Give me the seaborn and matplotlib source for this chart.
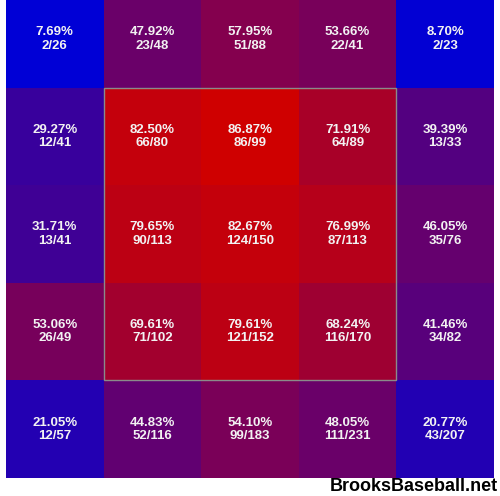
import numpy as np
import pandas as pd
import matplotlib
matplotlib.use("Agg")
import matplotlib.pyplot as plt
from matplotlib.colors import LinearSegmentedColormap
from matplotlib.patches import Rectangle
import seaborn as sns

# hits / pitches per zone, rows top to bottom
hits = [
    [2, 23, 51, 22, 2],
    [12, 66, 86, 64, 13],
    [13, 90, 124, 87, 35],
    [26, 71, 121, 116, 34],
    [12, 52, 99, 111, 43],
]
totals = [
    [26, 48, 88, 41, 23],
    [41, 80, 99, 89, 33],
    [41, 113, 150, 113, 76],
    [49, 102, 152, 170, 82],
    [57, 116, 183, 231, 207],
]

hits = np.array(hits)
totals = np.array(totals)
rate = hits / totals
df = pd.DataFrame(rate)

labels = np.empty(rate.shape, dtype=object)
for i in range(rate.shape[0]):
    for j in range(rate.shape[1]):
        labels[i, j] = f"{rate[i, j] * 100:.2f}%\n{hits[i, j]}/{totals[i, j]}"

cmap = LinearSegmentedColormap.from_list("br", ["#0000d6", "#cf0000"])

fig = plt.figure(figsize=(5, 4.96), dpi=100)
ax = fig.add_axes([6 / 500, 18 / 496, 488 / 500, 478 / 496])

sns.heatmap(df, annot=labels, fmt="", cmap=cmap,
            vmin=rate.min(), vmax=rate.max(), cbar=False,
            linewidths=0, ax=ax,
            annot_kws={"color": "#f2f2f2", "fontsize": 9.5,
                       "fontweight": "bold", "family": "Liberation Sans",
                       "linespacing": 1.15})

# strike zone
ax.add_patch(Rectangle((1, 1), 3, 3, fill=False, edgecolor="#8a8a8a", lw=1))

ax.set_ylim(5, 0.1)
ax.set_xticks([])
ax.set_yticks([])
ax.set_xlabel("")
ax.set_ylabel("")
for s in ax.spines.values():
    s.set_visible(False)

fig.text(0.995, 0.002, "BrooksBaseball.net", ha="right", va="bottom",
         fontsize=13, fontweight="bold", family="Liberation Sans", color="black")

plt.savefig("out.png", dpi=100)
